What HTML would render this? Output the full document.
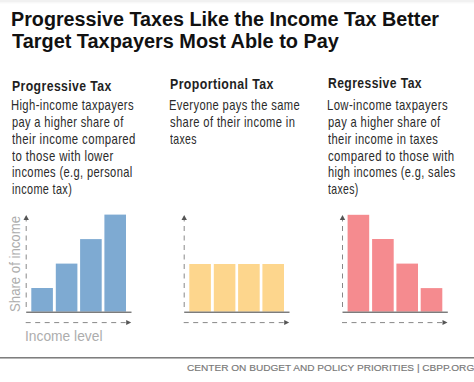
<!DOCTYPE html>
<html><head><meta charset="utf-8"><style>
html,body{margin:0;padding:0;background:#fff;}
body{width:474px;height:382px;position:relative;overflow:hidden;font-family:"Liberation Sans",sans-serif;}
.t{position:absolute;white-space:nowrap;transform-origin:0 0;}
svg{position:absolute;left:0;top:0;}
</style></head><body>
<div style="position:absolute;left:0;top:0;width:474px;height:2px;background:#f1f1f1"></div>
<div style="position:absolute;left:0;top:2px;width:474px;height:1px;background:#f8f8f8"></div>
<div style="position:absolute;left:0;top:3px;width:474px;height:1px;background:#fcfcfc"></div>
<svg width="474" height="382" viewBox="0 0 474 382">
<rect x="31.30" y="288" width="21.6" height="23.60" fill="#7eaad2"/>
<rect x="55.80" y="263.6" width="21.6" height="48.00" fill="#7eaad2"/>
<rect x="80.10" y="239.1" width="21.6" height="72.50" fill="#7eaad2"/>
<rect x="104.40" y="214.6" width="21.6" height="97.00" fill="#7eaad2"/>
<line x1="26.2" y1="216.5" x2="26.2" y2="307.5" stroke="#888" stroke-width="1.0" stroke-dasharray="5 4.5"/>
<polygon points="26.2,215 23.5,220 28.9,220" fill="#555"/>
<rect x="26.2" y="311.6" width="105.3" height="1.25" fill="#666"/>
<line x1="25.7" y1="322.6" x2="126" y2="322.6" stroke="#888" stroke-width="1.0" stroke-dasharray="5 4.5"/>
<polygon points="131.2,322.6 126.2,320.1 126.2,325.1" fill="#555"/>
<rect x="189.30" y="264" width="21.6" height="47.60" fill="#fdd68d"/>
<rect x="213.80" y="264" width="21.6" height="47.60" fill="#fdd68d"/>
<rect x="238.10" y="264" width="21.6" height="47.60" fill="#fdd68d"/>
<rect x="262.40" y="264" width="21.6" height="47.60" fill="#fdd68d"/>
<line x1="184.2" y1="216.5" x2="184.2" y2="307.5" stroke="#888" stroke-width="1.0" stroke-dasharray="5 4.5"/>
<polygon points="184.2,215 181.5,220 186.89999999999998,220" fill="#555"/>
<rect x="184.2" y="311.6" width="105.3" height="1.25" fill="#666"/>
<line x1="183.7" y1="322.6" x2="284" y2="322.6" stroke="#888" stroke-width="1.0" stroke-dasharray="5 4.5"/>
<polygon points="289.2,322.6 284.2,320.1 284.2,325.1" fill="#555"/>
<rect x="347.60" y="214.8" width="21.6" height="96.80" fill="#f58b8f"/>
<rect x="372.10" y="239" width="21.6" height="72.60" fill="#f58b8f"/>
<rect x="396.40" y="263.6" width="21.6" height="48.00" fill="#f58b8f"/>
<rect x="420.70" y="288.1" width="21.6" height="23.50" fill="#f58b8f"/>
<line x1="342.5" y1="216.5" x2="342.5" y2="307.5" stroke="#888" stroke-width="1.0" stroke-dasharray="5 4.5"/>
<polygon points="342.5,215 339.8,220 345.2,220" fill="#555"/>
<rect x="342.5" y="311.6" width="105.3" height="1.25" fill="#666"/>
<line x1="342.0" y1="322.6" x2="442.3" y2="322.6" stroke="#888" stroke-width="1.0" stroke-dasharray="5 4.5"/>
<polygon points="447.5,322.6 442.5,320.1 442.5,325.1" fill="#555"/>
<rect x="0" y="357.1" width="474" height="1.4" fill="#707070"/>
</svg>
<div class="t" style="left:10.99px;top:10.49px;font-size:19.5px;line-height:19.5px;font-weight:700;color:#111;transform:scaleX(1.0118);">Progressive Taxes Like the Income Tax Better</div>
<div class="t" style="left:12.00px;top:32.49px;font-size:19.5px;line-height:19.5px;font-weight:700;color:#111;transform:scaleX(1.0203);">Target Taxpayers Most Able to Pay</div>
<div class="t" style="left:11.68px;top:77.60px;font-size:15px;line-height:15px;font-weight:700;color:#1f1f1f;transform:scaleX(0.8156);letter-spacing:0.5px;">Progressive Tax</div>
<div class="t" style="left:169.78px;top:75.90px;font-size:15px;line-height:15px;font-weight:700;color:#1f1f1f;transform:scaleX(0.8230);letter-spacing:0.5px;">Proportional Tax</div>
<div class="t" style="left:327.69px;top:75.30px;font-size:15px;line-height:15px;font-weight:700;color:#1f1f1f;transform:scaleX(0.8103);letter-spacing:0.5px;">Regressive Tax</div>
<div class="t" style="left:11.25px;top:97.10px;font-size:15px;line-height:15px;font-weight:400;color:#2b2b2b;transform:scaleX(0.7500);letter-spacing:0.5px;">High-income taxpayers</div>
<div class="t" style="left:11.76px;top:113.90px;font-size:15px;line-height:15px;font-weight:400;color:#2b2b2b;transform:scaleX(0.7368);letter-spacing:0.5px;">pay a higher share of</div>
<div class="t" style="left:12.00px;top:130.70px;font-size:15px;line-height:15px;font-weight:400;color:#2b2b2b;transform:scaleX(0.7591);letter-spacing:0.5px;">their income compared</div>
<div class="t" style="left:12.00px;top:147.50px;font-size:15px;line-height:15px;font-weight:400;color:#2b2b2b;transform:scaleX(0.7600);letter-spacing:0.5px;">to those with lower</div>
<div class="t" style="left:11.76px;top:164.30px;font-size:15px;line-height:15px;font-weight:400;color:#2b2b2b;transform:scaleX(0.7411);letter-spacing:0.5px;">incomes (e.g, personal</div>
<div class="t" style="left:11.78px;top:181.10px;font-size:15px;line-height:15px;font-weight:400;color:#2b2b2b;transform:scaleX(0.7244);letter-spacing:0.5px;">income tax)</div>
<div class="t" style="left:169.26px;top:97.10px;font-size:15px;line-height:15px;font-weight:400;color:#2b2b2b;transform:scaleX(0.7438);letter-spacing:0.5px;">Everyone pays the same</div>
<div class="t" style="left:169.75px;top:113.90px;font-size:15px;line-height:15px;font-weight:400;color:#2b2b2b;transform:scaleX(0.7458);letter-spacing:0.5px;">share of their income in</div>
<div class="t" style="left:170.00px;top:130.70px;font-size:15px;line-height:15px;font-weight:400;color:#2b2b2b;transform:scaleX(0.7000);letter-spacing:0.5px;">taxes</div>
<div class="t" style="left:327.24px;top:97.10px;font-size:15px;line-height:15px;font-weight:400;color:#2b2b2b;transform:scaleX(0.7556);letter-spacing:0.5px;">Low-income taxpayers</div>
<div class="t" style="left:327.76px;top:113.90px;font-size:15px;line-height:15px;font-weight:400;color:#2b2b2b;transform:scaleX(0.7434);letter-spacing:0.5px;">pay a higher share of</div>
<div class="t" style="left:328.00px;top:130.70px;font-size:15px;line-height:15px;font-weight:400;color:#2b2b2b;transform:scaleX(0.7450);letter-spacing:0.5px;">their income in taxes</div>
<div class="t" style="left:327.74px;top:147.50px;font-size:15px;line-height:15px;font-weight:400;color:#2b2b2b;transform:scaleX(0.7620);letter-spacing:0.5px;">compared to those with</div>
<div class="t" style="left:327.77px;top:164.30px;font-size:15px;line-height:15px;font-weight:400;color:#2b2b2b;transform:scaleX(0.7345);letter-spacing:0.5px;">high incomes (e.g, sales</div>
<div class="t" style="left:328.00px;top:181.10px;font-size:15px;line-height:15px;font-weight:400;color:#2b2b2b;transform:scaleX(0.6977);letter-spacing:0.5px;">taxes)</div>
<div class="t" style="left:25px;top:327.80px;font-size:15px;line-height:15px;color:#adadad;transform:scaleX(0.92)">Income level</div>
<div class="t" style="left:7.30px;top:312.40px;font-size:15px;line-height:15px;color:#adadad;transform-origin:0 0;transform:rotate(-90deg) scaleX(0.879)">Share of income</div>
<div class="t" style="left:187px;top:363.07px;font-size:9.6px;line-height:9.6px;color:#777;-webkit-text-stroke:0.15px currentColor;transform:scaleX(1.051)">CENTER ON BUDGET AND POLICY PRIORITIES | CBPP.ORG</div>
</body></html>
